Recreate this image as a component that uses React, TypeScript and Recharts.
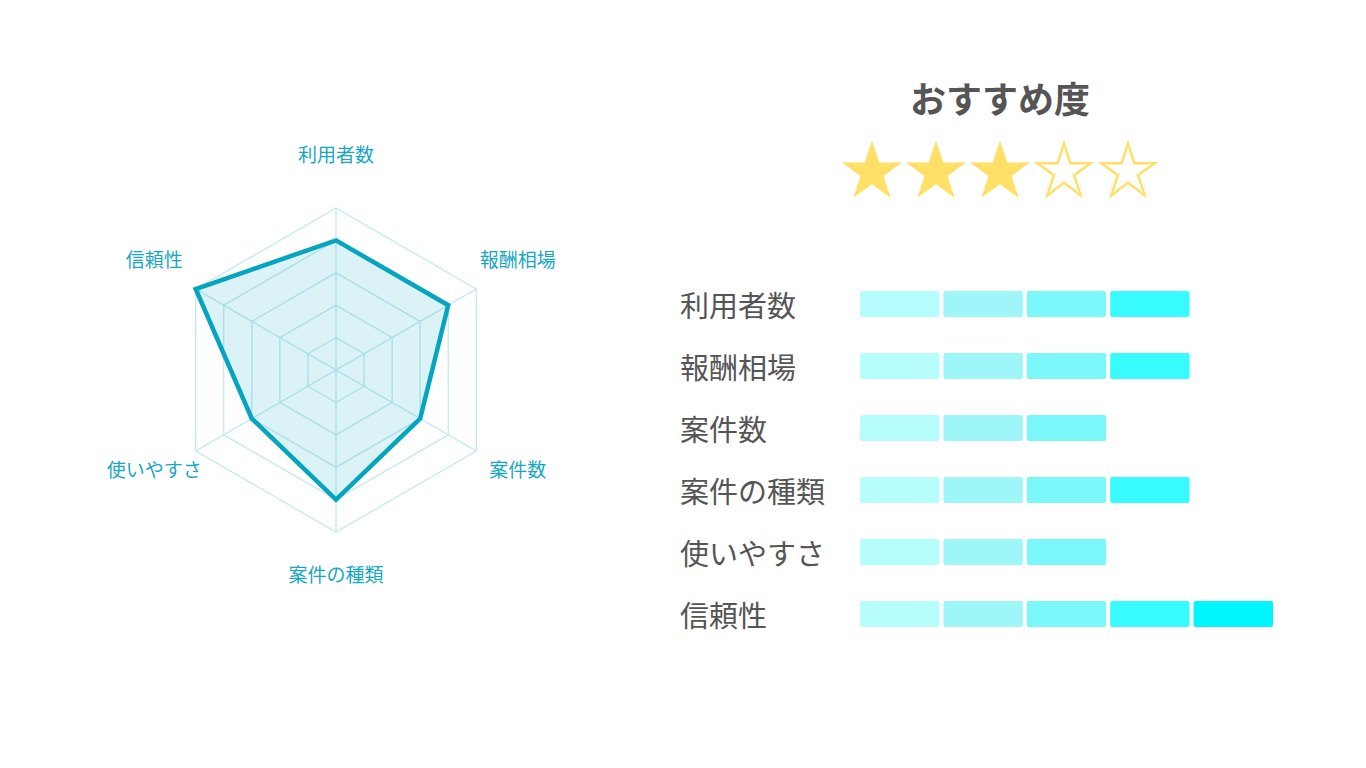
import {
  Bar,
  BarChart,
  PolarAngleAxis,
  PolarGrid,
  PolarRadiusAxis,
  Radar,
  RadarChart,
  XAxis,
  YAxis,
} from 'recharts';

// Evaluation items and their scores (1-5)
const categories = ['利用者数', '報酬相場', '案件数', '案件の種類', '使いやすさ', '信頼性'];
const scores = [4, 4, 3, 4, 3, 5];
const maxScore = 5;
const recommendRating = 3;

// Segment colours of the score bars, lightest first
const segmentColors = ['#b7fdfd', '#9ef6f8', '#7cf7f9', '#38fbff', '#00f6ff'];

const FONT = '"Noto Sans CJK JP", "Noto Sans", sans-serif';
const RADAR_CX = 336;
const RADAR_CY = 370;

const radarData = categories.map((name, i) => ({ name, value: scores[i] }));

// One key per segment: 1 if the score reaches that segment, else 0
const barData = categories.map((name, i) => {
  const row: Record<string, string | number> = { name };
  segmentColors.forEach((_, s) => {
    row[`s${s}`] = scores[i] > s ? 1 : 0;
  });
  return row;
});

/**
 * Angle-axis label placed further out than the default tick position.
 */
function RadarTick(props: any) {
  const { x, y, payload } = props;
  const dx = x - RADAR_CX;
  const dy = y - RADAR_CY;
  const len = Math.sqrt(dx * dx + dy * dy) || 1;
  const r = 210;
  return (
    <text
      x={RADAR_CX + (dx / len) * r}
      y={RADAR_CY + (dy / len) * r - 7}
      textAnchor="middle"
      dominantBaseline="central"
      fill="#17a7c4"
      fontSize={19}
      fontFamily={FONT}
    >
      {payload.value}
    </text>
  );
}

/**
 * Category label on the left of the score bars.
 */
function RowTick(props: any) {
  const { y, payload } = props;
  return (
    <text
      x={20}
      y={y}
      textAnchor="start"
      dominantBaseline="central"
      fill="#555555"
      fontSize={29}
      fontFamily={FONT}
    >
      {payload.value}
    </text>
  );
}

/**
 * Bar segment with a small gap on its right side.
 */
function Segment(props: any) {
  const { x, y, width, height, fill } = props;
  if (!width || width <= 1) return null;
  return <rect x={x} y={y} width={width - 4} height={height} rx={2} ry={2} fill={fill} />;
}

export default function App() {
  return (
    <div
      style={{
        position: 'absolute',
        left: 0,
        top: 0,
        width: 1366,
        height: 768,
        background: '#ffffff',
        fontFamily: FONT,
      }}
    >
      {/* Radar chart */}
      <div style={{ position: 'absolute', left: 0, top: 0 }}>
        <RadarChart
          width={672}
          height={740}
          data={radarData}
          cx={RADAR_CX}
          cy={RADAR_CY}
          outerRadius={162}
          startAngle={90}
          endAngle={-270}
        >
          <PolarGrid gridType="polygon" stroke="#bde8f0" strokeWidth={1.2} />
          <PolarRadiusAxis
            domain={[0, maxScore]}
            tickCount={6}
            tick={false}
            axisLine={false}
          />
          <PolarAngleAxis dataKey="name" tick={RadarTick} tickLine={false} />
          <Radar
            dataKey="value"
            stroke="#05a5c0"
            strokeWidth={4.5}
            fill="#00a0be"
            fillOpacity={0.14}
            isAnimationActive={false}
          />
        </RadarChart>
      </div>

      {/* Title and stars */}
      <div
        style={{
          position: 'absolute',
          left: 700,
          top: 70,
          width: 600,
          textAlign: 'center',
          fontSize: 36,
          fontWeight: 700,
          color: '#555555',
          lineHeight: '54px',
        }}
      >
        おすすめ度
      </div>
      <div
        style={{
          position: 'absolute',
          left: 700,
          top: 121,
          width: 600,
          textAlign: 'center',
          fontSize: 64,
          color: '#ffe066',
          lineHeight: '88px',
        }}
      >
        {'★'.repeat(recommendRating) + '☆'.repeat(maxScore - recommendRating)}
      </div>

      {/* Score bars */}
      <div style={{ position: 'absolute', left: 660, top: 273 }}>
        <BarChart
          width={640}
          height={372}
          data={barData}
          layout="vertical"
          margin={{ top: 0, right: 23, bottom: 0, left: 0 }}
          barSize={26}
        >
          <XAxis type="number" domain={[0, maxScore]} hide />
          <YAxis
            type="category"
            dataKey="name"
            width={200}
            axisLine={false}
            tickLine={false}
            tick={RowTick}
          />
          {segmentColors.map((color, s) => (
            <Bar
              key={s}
              dataKey={`s${s}`}
              stackId="score"
              fill={color}
              shape={Segment}
              isAnimationActive={false}
            />
          ))}
        </BarChart>
      </div>
    </div>
  );
}
